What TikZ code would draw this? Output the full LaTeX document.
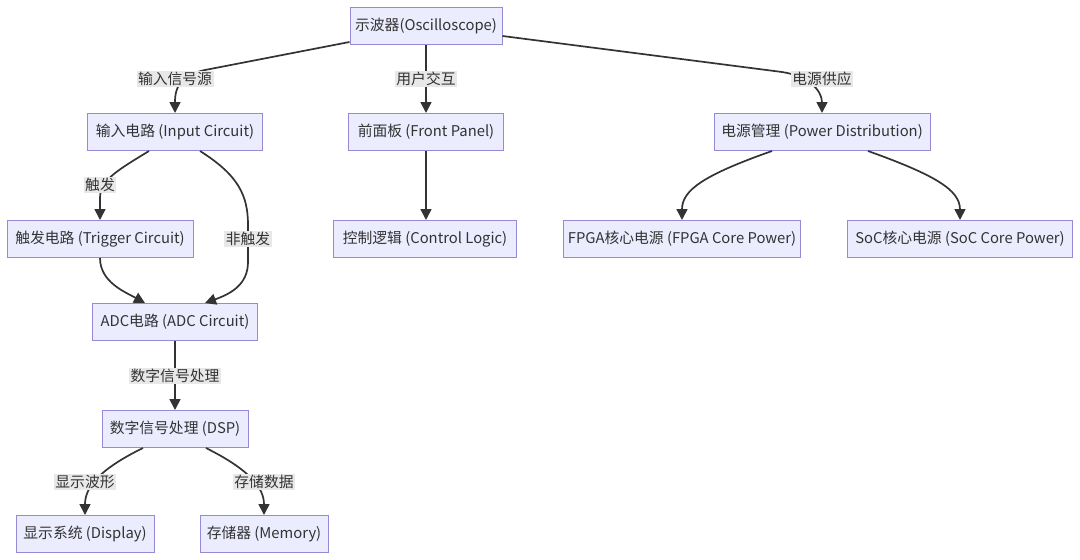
\documentclass[tikz,border=0pt]{standalone}
\usepackage{fontspec}
\setmainfont{Noto Sans CJK SC}
\usetikzlibrary{arrows.meta}
\definecolor{boxfill}{RGB}{236,236,255}
\definecolor{boxdraw}{RGB}{150,138,215}
\definecolor{txt}{RGB}{51,51,51}
\definecolor{lblbg}{RGB}{232,232,232}
\definecolor{edge}{RGB}{51,51,51}
\tikzset{
  box/.style={draw=boxdraw, fill=boxfill, line width=1pt, minimum height=37pt, inner sep=0pt, text=txt, font=\fontsize{14.8}{17}\selectfont},
  lbl/.style={fill=lblbg, inner sep=1.5pt, text=txt, font=\fontsize{14.8}{17}\selectfont},
  conn/.style={draw=edge, line width=1.7pt, -{Triangle[length=11pt,width=11pt]}}
}
\begin{document}
\begin{tikzpicture}[x=1pt,y=-1pt]
\path[use as bounding box, fill=white] (0,0) rectangle (1080,560);
\node[box, minimum width=152pt] (osc) at (426,26) {示波器(Oscilloscope)};
\node[box, minimum width=175pt] (inp) at (175,132) {输入电路 (Input Circuit)};
\node[box, minimum width=155pt] (fp) at (426,132) {前面板 (Front Panel)};
\node[box, minimum width=216pt] (pw) at (822,132) {电源管理 (Power Distribution)};
\node[box, minimum width=186pt] (trg) at (100,239) {触发电路 (Trigger Circuit)};
\node[box, minimum width=183pt] (ctl) at (425,239) {控制逻辑 (Control Logic)};
\node[box, minimum width=237pt] (fpga) at (682,239) {FPGA核心电源 (FPGA Core Power)};
\node[box, minimum width=225pt] (soc) at (960,239) {SoC核心电源 (SoC Core Power)};
\node[box, minimum width=165pt] (adc) at (175,322) {ADC电路 (ADC Circuit)};
\node[box, minimum width=146pt] (dsp) at (175,429) {数字信号处理 (DSP)};
\node[box, minimum width=138pt] (disp) at (85,534) {显示系统 (Display)};
\node[box, minimum width=128pt] (mem) at (264,534) {存储器 (Memory)};

\draw[conn] ([yshift=3pt]osc.south west) -- (205,70) .. controls (182,75) and (175,85) .. (inp.north);
\draw[conn] (osc.south) -- (fp.north);
\draw[conn] ([yshift=9pt]osc.south east) -- (782,72) .. controls (808,76) and (822,90) .. (pw.north);
\draw[conn] ([xshift=-26pt]inp.south) .. controls (118,170) and (100,180) .. (100,198) -- (trg.north);
\draw[conn] ([xshift=25pt]inp.south) .. controls (238,175) and (248,195) .. (248,225) -- (248,262) .. controls (248,285) and (230,294) .. ([xshift=30pt]adc.north);
\draw[conn] (trg.south) .. controls (100,282) and (125,292) .. ([xshift=-30pt]adc.north);
\draw[conn] (fp.south) -- (fp.south |- ctl.north);
\draw[conn] ([xshift=-50pt]pw.south) .. controls (704,175) and (682,190) .. (fpga.north);
\draw[conn] ([xshift=46pt]pw.south) .. controls (935,175) and (960,190) .. (soc.north);
\draw[conn] (adc.south) -- (dsp.north);
\draw[conn] ([xshift=-32pt]dsp.south) .. controls (98,470) and (85,488) .. (disp.north);
\draw[conn] ([xshift=31pt]dsp.south) .. controls (250,470) and (264,488) .. (mem.north);

\node[lbl] (l1) at (175,79) {输入信号源};
\node[lbl] (l2) at (426,79) {用户交互};
\node[lbl] (l3) at (822,79) {电源供应};
\node[lbl] (l4) at (100,185) {触发};
\node[lbl] (l5) at (248,239) {非触发};
\node[lbl] (l6) at (175,376) {数字信号处理};
\node[lbl] (l7) at (85,482) {显示波形};
\node[lbl] (l8) at (264,482) {存储数据};
\end{tikzpicture}
\end{document}
